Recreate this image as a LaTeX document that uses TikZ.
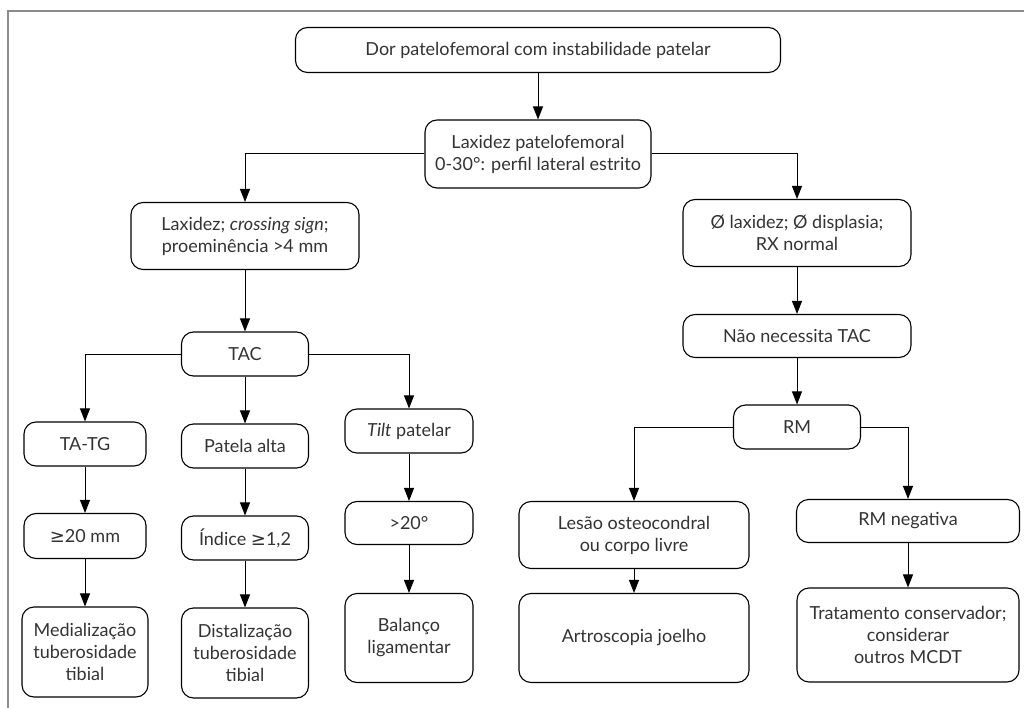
\documentclass[tikz,border=0pt]{standalone}
\usepackage{fontspec}
\setmainfont{Lato}
\newfontfamily\symfont{DejaVu Sans}
\usetikzlibrary{arrows.meta,positioning}

\begin{document}
\begin{tikzpicture}[x=1pt,y=1pt,font=\fontsize{18}{22}\selectfont,
    box/.style={draw, rounded corners=12pt, line width=1.1pt, text=black!80, align=center, inner sep=2pt},
    arr/.style={-{Triangle[length=13pt,width=10pt]}, line width=1pt}]
        \useasboundingbox (0,0) rectangle (1024,-708);
        \draw[black!45, line width=1.2pt] (8,-708) -- (8,-11) -- (1024,-11);

        \node[box, minimum width=485pt, minimum height=45pt] (start) at (538,-50) {Dor patelofemoral com instabilidade patelar};
        \node[box, minimum width=226pt, minimum height=68pt, below of=start, node distance=104pt] (laxpf) {Laxidez patelofemoral\\0-30°: perfil lateral estrito};

        % ramo esquerdo
        \node[box, minimum width=228pt, minimum height=67pt, below of=laxpf, node distance=82pt, xshift=-293pt] (laxcs) {Laxidez; \textit{crossing sign};\\proeminência >4 mm};
        \node[box, minimum width=127pt, minimum height=44pt, below of=laxcs, node distance=118pt] (tac) {TAC};
        \node[box, minimum width=122pt, minimum height=44pt, below of=tac, node distance=90pt, xshift=-160pt] (tatg) {TA-TG};
        \node[box, minimum width=127pt, minimum height=44pt, below of=tac, node distance=92pt] (patela) {Patela alta};
        \node[box, minimum width=128pt, minimum height=44pt, below of=tac, node distance=77pt, xshift=164pt] (tilt) {\textit{Tilt} patelar};
        \node[box, minimum width=122pt, minimum height=45pt, below of=tatg, node distance=92pt] (mm20) {{\symfont ≥}20 mm};
        \node[box, minimum width=127pt, minimum height=44pt, below of=patela, node distance=92pt] (indice) {Índice {\symfont ≥}1,2};
        \node[box, minimum width=128pt, minimum height=43pt, below of=tilt, node distance=92pt] (gt20) {>20°};
        \node[box, minimum width=126pt, minimum height=90pt, below of=mm20, node distance=116pt] (medial) {Medialização\\tuberosidade\\tibial};
        \node[box, minimum width=127pt, minimum height=90pt, below of=indice, node distance=115pt] (distal) {Distalização\\tuberosidade\\tibial};
        \node[box, minimum width=128pt, minimum height=89pt, below of=gt20, node distance=115pt] (balanco) {Balanço\\ligamentar};

        % ramo direito
        \node[box, minimum width=228pt, minimum height=67pt, below of=laxpf, node distance=79pt, xshift=259pt] (nolax) {Ø laxidez; Ø displasia;\\RX normal};
        \node[box, minimum width=228pt, minimum height=43pt, below of=nolax, node distance=103pt] (naotac) {Não necessita TAC};
        \node[box, minimum width=127pt, minimum height=44pt, below of=naotac, node distance=91pt] (rm) {RM};
        \node[box, minimum width=230pt, minimum height=67pt, below of=rm, node distance=108pt, xshift=-163pt] (lesao) {Lesão osteocondral\\ou corpo livre};
        \node[box, minimum width=230pt, minimum height=89pt, below of=lesao, node distance=103pt] (artro) {Artroscopia joelho};
        \node[box, minimum width=223pt, minimum height=43pt, below of=rm, node distance=94pt, xshift=111pt] (rmneg) {RM negativa};
        \node[box, minimum width=222pt, minimum height=94pt, below of=rmneg, node distance=114pt] (trat) {Tratamento conservador;\\considerar\\outros MCDT};

        \draw[arr] (start) -- (laxpf);
        \draw[arr] (laxpf.west) -| (laxcs.north);
        \draw[arr] (laxpf.east) -| (nolax.north);
        \draw[arr] (laxcs) -- (tac);
        \draw[arr] (tac.west) -| (tatg.north);
        \draw[arr] (tac) -- (patela);
        \draw[arr] (tac.east) -| (tilt.north);
        \draw[arr] (tatg) -- (mm20);
        \draw[arr] (mm20) -- (medial);
        \draw[arr] (patela) -- (indice);
        \draw[arr] (indice) -- (distal);
        \draw[arr] (tilt) -- (gt20);
        \draw[arr] (gt20) -- (balanco);
        \draw[arr] (nolax) -- (naotac);
        \draw[arr] (naotac) -- (rm);
        \draw[arr] (rm.west) -| (lesao.north);
        \draw[arr] (rm.east) -| (rmneg.north);
        \draw[arr] (lesao) -- (artro);
        \draw[arr] (rmneg) -- (trat);
    \end{tikzpicture}
\end{document}
